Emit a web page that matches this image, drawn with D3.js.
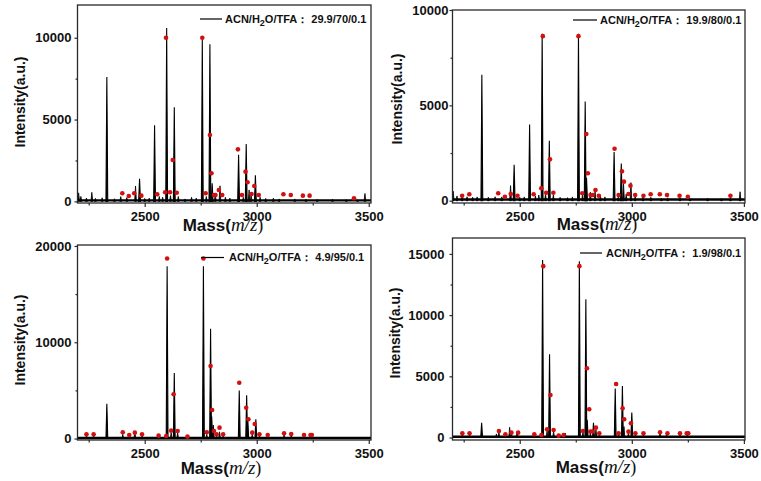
<!DOCTYPE html>
<html><head><meta charset="utf-8">
<script src="https://cdn.jsdelivr.net/npm/d3@7"></script>
<style>body{margin:0;background:#fff}svg{display:block}</style>
</head><body><svg id="c" width="761" height="481"></svg>
<script>
// ---------------- DATA ----------------
const legendPrefix = "ACN/H";
const legendSub = "2";
const legendMid = "O/TFA：";
const legendValues = ["29.9/70/0.1", "19.9/80/0.1", "4.9/95/0.1", "1.9/98/0.1"];
const xTitleMain = "Mass(";
const xTitleItalic = "m/z";
const xTitleEnd = ")";
const yTitle = "Intensity(a.u.)";

const massMajorTicks = [2500, 3000, 3500];
const massMinorTicks = [2250, 2750, 3250];

const p1YMajor = [0, 5000, 10000], p1YMinor = [2500, 7500];
const p2YMajor = [0, 5000, 10000], p2YMinor = [2500, 7500];
const p3YMajor = [0, 10000, 20000], p3YMinor = [5000, 15000];
const p4YMajor = [0, 5000, 10000, 15000], p4YMinor = [2500, 7500, 12500];

// panel 1 : 29.9/70/0.1
const p1PeakMass = [2205,2215,2240,2264,2280,2310,2331,2365,2393,2420,2459,2477,2500,2520,2544,2565,2580,2598,2615,2632,2650,2680,2709,2730,2757,2775,2791,2801,2815,2836,2860,2880,2919,2940,2953,2966,2975,2994,3015,3040,3074,3100,3170,3220,3270,3338,3400,3450,3483];
const p1PeakInt  = [520,300,200,550,180,220,7600,160,290,230,940,1380,180,200,4650,300,250,10600,350,5750,300,150,250,200,10000,300,9600,1100,500,950,250,200,2850,250,3500,700,400,1600,250,180,190,150,150,130,120,130,100,100,480];
const p1DotMass = [2400,2429,2453,2485,2556,2591,2595,2613,2625,2643,2757,2772,2791,2798,2809,2816,2831,2846,2916,2934,2950,2959,2977,2989,3009,3119,3152,3206,3236,3434];
const p1DotInt  = [495,330,495,350,434,556,10000,556,2530,530,10000,495,4060,1720,391,391,697,391,3180,391,1815,1170,452,941,391,434,391,350,350,190];

// panel 2 : 19.9/80/0.1
const p2PeakMass = [2203,2220,2243,2265,2290,2310,2331,2360,2390,2420,2459,2475,2500,2520,2544,2570,2585,2600,2615,2632,2650,2680,2713,2735,2762,2780,2792,2798,2815,2836,2860,2880,2921,2940,2953,2963,2975,2996,3015,3050,3085,3132,3160,3215,3260,3338,3400,3440,3483];
const p2PeakInt  = [500,250,220,210,180,200,6600,180,210,200,790,1880,180,200,4000,250,300,8750,350,3150,300,180,160,200,8750,300,5200,1200,450,500,250,200,2550,250,1950,900,350,950,250,200,180,130,150,150,120,130,110,150,470];
const p2DotMass = [2243,2275,2404,2434,2460,2490,2562,2596,2603,2618,2635,2650,2762,2779,2797,2804,2816,2826,2838,2853,2923,2941,2956,2965,2985,2994,3015,3052,3084,3125,3157,3213,3250,3440];
const p2DotInt  = [262,335,388,210,351,262,335,650,8630,419,2170,419,8630,388,3500,1440,300,300,560,262,2725,300,1540,1000,351,790,300,262,335,335,300,262,210,262];

// panel 3 : 4.9/95/0.1
const p3PeakMass = [2240,2272,2331,2402,2431,2456,2488,2562,2596,2600,2618,2632,2647,2691,2762,2777,2794,2799,2806,2821,2834,2850,2922,2955,2960,2980,2996,3012,3049,3122,3154,3211,3243];
const p3PeakInt  = [300,300,3600,450,250,700,300,200,200,17900,600,6800,600,150,17900,450,11400,2300,1400,350,700,300,5000,4500,2100,450,2000,300,250,400,350,250,250];
const p3DotMass = [2240,2272,2402,2431,2456,2488,2562,2596,2600,2618,2629,2647,2691,2762,2777,2794,2801,2809,2821,2834,2850,2922,2953,2963,2980,2991,3012,3049,3122,3154,3211,3240,3246];
const p3DotInt  = [446,446,654,374,612,446,301,270,18700,820,4600,790,200,18700,654,7540,2970,790,446,1130,446,5800,3200,2000,612,1515,446,374,550,477,374,374,374];

// panel 4 : 1.9/98/0.1
const p4PeakMass = [2244,2276,2330,2396,2407,2436,2455,2463,2488,2565,2597,2602,2622,2633,2651,2674,2696,2703,2766,2782,2795,2801,2815,2829,2840,2855,2926,2941,2958,2965,2985,3000,3016,3052,3126,3156,3215,3248,3497];
const p4PeakInt  = [300,250,1200,300,450,200,840,300,480,200,180,14500,550,6800,500,120,180,370,14400,450,11300,1450,400,1200,650,300,4000,300,4200,900,400,2050,300,300,400,300,300,300,60];
const p4DotMass = [2244,2276,2407,2436,2463,2493,2565,2597,2605,2622,2637,2651,2674,2696,2766,2782,2800,2810,2815,2825,2840,2855,2930,2941,2959,2966,2985,2996,3016,3052,3126,3159,3215,3245,3252];
const p4DotInt  = [351,351,539,269,400,400,269,212,14000,677,3476,620,155,212,14000,539,5655,2309,500,500,808,351,4374,351,2391,1493,481,1167,351,351,433,351,351,351,351];

// ---------------- LAYOUT ----------------
const panels = [
  {peaksM:p1PeakMass, peaksI:p1PeakInt, dotsM:p1DotMass, dotsI:p1DotInt, yMajor:p1YMajor, yMinor:p1YMinor, legend:legendValues[0],
   x0:77.5, x1:371, y0:5, y1:203, xDom:[2200,3510], yDom:[-100,12000], yPad:3,
   lg:{lx0:200, lx1:222, tx:225, ty:19}, yt:{x:20,y:102}, xt:{x:223,y:231}},
  {peaksM:p2PeakMass, peaksI:p2PeakInt, dotsM:p2DotMass, dotsI:p2DotInt, yMajor:p2YMajor, yMinor:p2YMinor, legend:legendValues[1],
   x0:452.5, x1:745, y0:10, y1:203, xDom:[2200,3505], yDom:[-120,10000], yPad:1,
   lg:{lx0:573, lx1:597, tx:600, ty:20}, yt:{x:397,y:99}, xt:{x:597,y:229.5}},
  {peaksM:p3PeakMass, peaksI:p3PeakInt, dotsM:p3DotMass, dotsI:p3DotInt, yMajor:p3YMajor, yMinor:p3YMinor, legend:legendValues[2],
   x0:77.5, x1:371, y0:245, y1:440, xDom:[2200,3510], yDom:[-150,20100], yPad:3,
   lg:{lx0:201, lx1:224, tx:229, ty:257.5}, yt:{x:20,y:340}, xt:{x:221,y:474}},
  {peaksM:p4PeakMass, peaksI:p4PeakInt, dotsM:p4DotMass, dotsI:p4DotInt, yMajor:p4YMajor, yMinor:p4YMinor, legend:legendValues[3],
   x0:452.5, x1:745, y0:238, y1:440, xDom:[2200,3505], yDom:[-200,16300], yPad:5,
   lg:{lx0:580, lx1:602, tx:606, ty:253}, yt:{x:395,y:333}, xt:{x:596,y:472.5}}
];

const svg = d3.select("#c");
const SANS = "'Liberation Sans', Arial, sans-serif";
const INK = "#2a2a2a";
const RED = "#d2100f";

panels.forEach(p => {
  const x = d3.scaleLinear().domain(p.xDom).range([p.x0, p.x1]);
  const y = d3.scaleLinear().domain(p.yDom).range([p.y1, p.y0]);
  const g = svg.append("g");

  const clipId = "clip" + p.x0 + "_" + p.y0;
  svg.append("clipPath").attr("id", clipId).append("rect")
    .attr("x", p.x0).attr("y", p.y0).attr("width", p.x1 - p.x0).attr("height", p.y1 - p.y0);
  const plot = g.append("g").attr("clip-path", `url(#${clipId})`);

  // baseline (noise band)
  plot.append("line").attr("x1", x(p.xDom[0])).attr("x2", x(p.xDom[1]))
    .attr("y1", y(60)).attr("y2", y(60)).attr("stroke", "#000").attr("stroke-width", 2.4);

  // peaks
  const pk = p.peaksM.map((m, i) => ({m, v: p.peaksI[i]}));
  plot.selectAll("path.pk").data(pk).enter().append("path").attr("class", "pk")
    .attr("d", d => `M${x(d.m) - 0.9},${y(0)} L${x(d.m)},${y(d.v)} L${x(d.m) + 0.9},${y(0)} Z`)
    .attr("fill", "#000").attr("stroke", "#000")
    .attr("stroke-width", d => d.v > 1000 ? 1.1 : 0.8).attr("stroke-linejoin", "miter");

  // red dots
  const dt = p.dotsM.map((m, i) => ({m, v: p.dotsI[i]}));
  plot.selectAll("circle").data(dt).enter().append("circle")
    .attr("cx", d => x(d.m)).attr("cy", d => y(d.v)).attr("r", 2.3).attr("fill", RED);

  // axes
  const xa = g.append("g").attr("transform", `translate(0,${p.y1})`)
    .call(d3.axisBottom(x).tickValues(massMajorTicks).tickSize(4).tickPadding(5).tickFormat(d3.format("d")));
  const xm = g.append("g").attr("transform", `translate(0,${p.y1})`)
    .call(d3.axisBottom(x).tickValues(massMinorTicks).tickSize(2.5).tickFormat(""));
  const ya = g.append("g").attr("transform", `translate(${p.x0},0)`)
    .call(d3.axisLeft(y).tickValues(p.yMajor).tickSize(3).tickPadding(p.yPad).tickFormat(d3.format("d")));
  const ym = g.append("g").attr("transform", `translate(${p.x0},0)`)
    .call(d3.axisLeft(y).tickValues(p.yMinor).tickSize(2).tickFormat(""));
  [xa, xm, ya, ym].forEach(a => {
    a.select(".domain").remove();
    a.selectAll("line").attr("stroke", INK).attr("stroke-width", 1.2);
    a.selectAll("text").attr("fill", "#111").style("font-family", SANS).style("font-weight", "bold").style("font-size", "13px");
  });

  // frame
  g.append("rect").attr("x", p.x0).attr("y", p.y0).attr("width", p.x1 - p.x0).attr("height", p.y1 - p.y0)
    .attr("fill", "none").attr("stroke", INK).attr("stroke-width", 1.3);

  // legend
  g.append("line").attr("x1", p.lg.lx0).attr("x2", p.lg.lx1).attr("y1", p.lg.ty).attr("y2", p.lg.ty)
    .attr("stroke", "#000").attr("stroke-width", 1.2);
  const lt = g.append("text").attr("x", p.lg.tx).attr("y", p.lg.ty).attr("dy", "0.35em")
    .style("font-family", SANS).style("font-weight", "bold").style("font-size", "11px").attr("fill", "#111");
  lt.append("tspan").text(legendPrefix);
  lt.append("tspan").attr("dy", 3).style("font-size", "9px").text(legendSub);
  lt.append("tspan").attr("dy", -3).text(legendMid);
  lt.append("tspan").text(" " + p.legend);

  // y title
  g.append("text").attr("transform", `translate(${p.yt.x},${p.yt.y}) rotate(-90)`)
    .attr("text-anchor", "middle").attr("dy", "0.35em")
    .style("font-family", SANS).style("font-weight", "bold").style("font-size", "14px").attr("fill", "#111")
    .text(yTitle);

  // x title
  const xt = g.append("text").attr("x", p.xt.x).attr("y", p.xt.y).attr("text-anchor", "middle")
    .style("font-family", SANS).style("font-weight", "bold").style("font-size", "17px").attr("fill", "#111");
  xt.append("tspan").text(xTitleMain);
  xt.append("tspan").style("font-family", "'Liberation Serif', 'Times New Roman', serif").style("font-style", "italic").style("font-weight", "normal").style("font-size", "19px").text(xTitleItalic);
  xt.append("tspan").style("font-family", "'Liberation Serif', 'Times New Roman', serif").style("font-weight", "normal").style("font-size", "18px").text(xTitleEnd);
});
</script></body></html>
